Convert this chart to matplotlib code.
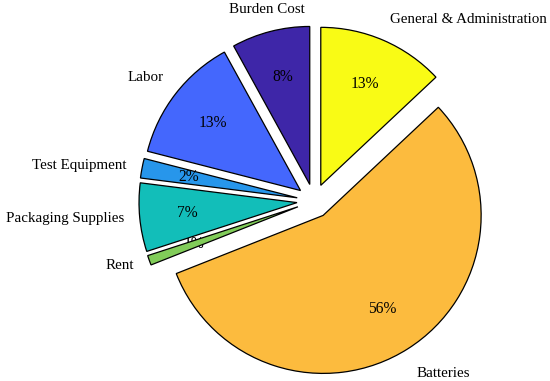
import numpy as np
import matplotlib
matplotlib.use('Agg')
import matplotlib.pyplot as plt

# cost breakdown, listed counterclockwise from 12 o'clock
CATEGORIES = ['Burden Cost', 'Labor', 'Test Equipment', 'Packaging Supplies',
              'Rent', 'Batteries', 'General & Administration']
SHARES = [8, 13, 2, 7, 1, 56, 13]
# parula(7)
COLORS = ['#3E26A8', '#4467FD', '#2796EB', '#12BEB9', '#81CC59', '#FCBB3E', '#F9FB15']

W, H, DPI = 5.5, 3.81, 100
R_PX = 158.0
CX, CY = 314.0, 180.0   # pie centre in pixels from bottom-left


def main():
    plt.rcParams['font.family'] = ['Liberation Serif', 'DejaVu Serif']
    plt.rcParams['font.size'] = 10.8

    fig = plt.figure(figsize=(W, H), dpi=DPI)
    ax = fig.add_axes([0, 0, 1, 1])

    wedges, texts, autotexts = ax.pie(
        SHARES, labels=CATEGORIES, colors=COLORS, startangle=90,
        counterclock=True, explode=[0.108] * len(SHARES),
        autopct='%1.0f%%', pctdistance=0.7, labeldistance=1.1,
        wedgeprops=dict(edgecolor='black', linewidth=0.9),
        textprops=dict(fontsize=10.8),
    )

    # MATLAB-like label alignment
    for w, t in zip(wedges, texts):
        ang = np.deg2rad((w.theta1 + w.theta2) / 2)
        c, s = np.cos(ang), np.sin(ang)
        t.set_ha('center' if abs(c) < 0.3 else ('left' if c > 0 else 'right'))
        t.set_va('bottom' if s > 0.5 else ('top' if s < -0.5 else 'center'))
        if s < -0.5:
            t.set_y(t.get_position()[1] - 0.03)

    for v, at in zip(SHARES, autotexts):
        at.set_fontsize(11.2)
        if v < 2:
            # tiny slice: label ends up partly under the wedge
            at.set_zorder(0)

    ax.set_xlim(-CX / R_PX, (W * DPI - CX) / R_PX)
    ax.set_ylim(-CY / R_PX, (H * DPI - CY) / R_PX)
    ax.set_aspect('auto')
    ax.axis('off')

    fig.savefig('out.png', dpi=DPI)


if __name__ == '__main__':
    main()
